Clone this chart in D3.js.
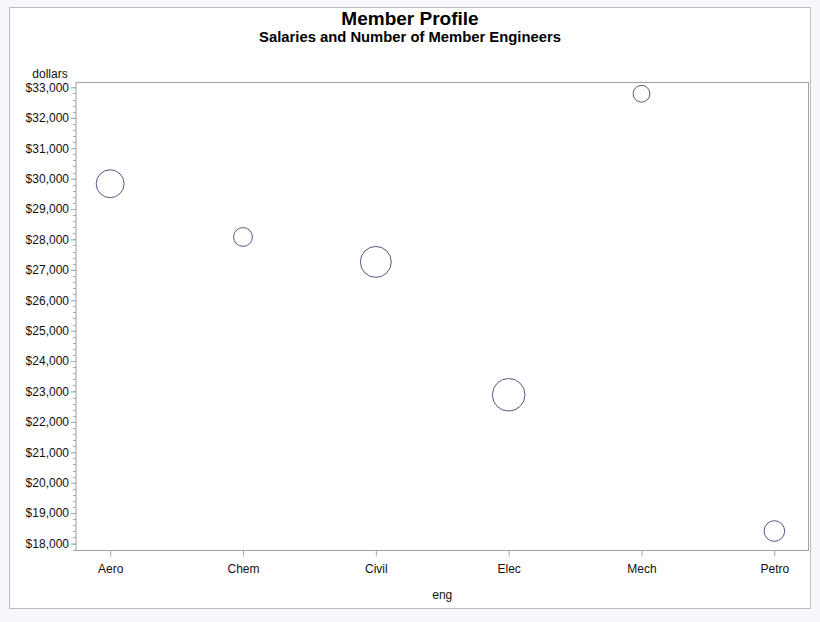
<!DOCTYPE html>
<html lang="en">
<head>
<meta charset="UTF-8">
<title>Member Profile</title>
<script src="https://cdn.jsdelivr.net/npm/d3@7"></script>
<style>
  body { margin: 0; background: #f6f7fb; }
  text { font-family: "Liberation Sans", Arial, sans-serif; }
</style>
</head>
<body>
<script>
// data
var categories = ["Aero", "Chem", "Civil", "Elec", "Mech", "Petro"];
var salaries = [29830, 28080, 27260, 22890, 32790, 18410];
var members = [22, 10, 27, 30, 8, 12];
var yTicks = [18000, 19000, 20000, 21000, 22000, 23000, 24000, 25000,
              26000, 27000, 28000, 29000, 30000, 31000, 32000, 33000];

var width = 820, height = 622;
var plotL = 76, plotR = 808.5, plotT = 82.5, plotB = 550.5;

var svg = d3.select("body").append("svg")
    .attr("width", width)
    .attr("height", height);

// white panel
svg.append("rect")
    .attr("x", 9.5).attr("y", 7.5)
    .attr("width", 801).attr("height", 601)
    .attr("fill", "white")
    .attr("stroke", "#b9bcc4");

svg.append("text")
    .attr("x", 410).attr("y", 25)
    .attr("text-anchor", "middle")
    .attr("font-size", 19).attr("font-weight", "bold")
    .text("Member Profile");

svg.append("text")
    .attr("x", 410).attr("y", 42)
    .attr("text-anchor", "middle")
    .attr("font-size", 14.8).attr("font-weight", "bold")
    .text("Salaries and Number of Member Engineers");

var x = d3.scalePoint()
    .domain(categories)
    .range([plotL, plotR])
    .padding(0.257);

var y = d3.scaleLinear()
    .domain([17770, 33160])
    .range([plotB, plotT]);

var r = d3.scaleSqrt()
    .domain([0, 30])
    .range([0, 16.3]);

// plot frame
svg.append("rect")
    .attr("x", plotL).attr("y", plotT)
    .attr("width", plotR - plotL).attr("height", plotB - plotT)
    .attr("fill", "none")
    .attr("stroke", "#a0a0a0");

// minor y ticks
var minor = d3.range(17800, 33001, 200);
svg.append("g").selectAll("line")
    .data(minor)
    .enter().append("line")
    .attr("x1", plotL - 3).attr("x2", plotL)
    .attr("y1", d => Math.round(y(d)) + 0.5)
    .attr("y2", d => Math.round(y(d)) + 0.5)
    .attr("stroke", "#a8a8a8");

var yAxis = svg.append("g")
    .attr("transform", "translate(" + plotL + ",0)")
    .call(d3.axisLeft(y).tickValues(yTicks).tickSize(5).tickPadding(2)
        .tickFormat(d3.format("$,.0f")));
yAxis.select(".domain").remove();
yAxis.selectAll("line").attr("stroke", "#a8a8a8");
yAxis.selectAll("text").attr("font-size", 12).attr("fill", "#111")
    .style("font-family", "'Liberation Sans', Arial, sans-serif");

var xAxis = svg.append("g")
    .attr("transform", "translate(0," + plotB + ")")
    .call(d3.axisBottom(x).tickSize(6).tickPadding(8));
xAxis.select(".domain").remove();
xAxis.selectAll("line").attr("stroke", "#a8a8a8");
xAxis.selectAll("text").attr("font-size", 12).attr("fill", "#111")
    .style("font-family", "'Liberation Sans', Arial, sans-serif");

svg.append("text")
    .attr("x", 50).attr("y", 78)
    .attr("text-anchor", "middle")
    .attr("font-size", 12).attr("fill", "#111")
    .text("dollars");

svg.append("text")
    .attr("x", (plotL + plotR) / 2).attr("y", 599)
    .attr("text-anchor", "middle")
    .attr("font-size", 12).attr("fill", "#111")
    .text("eng");

// bubbles
svg.append("g").selectAll("circle")
    .data(categories)
    .enter().append("circle")
    .attr("cx", (d, i) => x(d))
    .attr("cy", (d, i) => y(salaries[i]))
    .attr("r", (d, i) => r(members[i]))
    .attr("fill", "none")
    .attr("stroke", "#525a80")
    .attr("stroke-width", 1);
</script>
</body>
</html>
